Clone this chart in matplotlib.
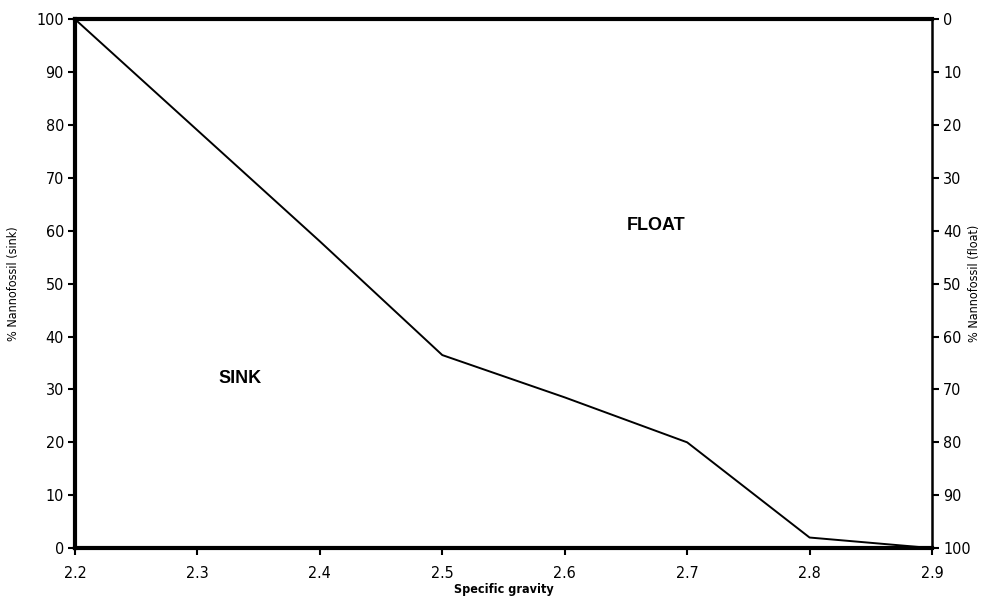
import matplotlib.pyplot as plt

gravity = [2.2, 2.3, 2.4, 2.5, 2.6, 2.7, 2.8, 2.9]
sink_pct = [100, 79, 58, 36.5, 28.5, 20, 2, 0]
x_ticks = [2.2, 2.3, 2.4, 2.5, 2.6, 2.7, 2.8, 2.9]
y_ticks = list(range(0, 101, 10))

plt.rcParams['font.family'] = ['DejaVu Sans']
plt.rcParams['font.stretch'] = 'condensed'


def main():
    fig = plt.figure(figsize=(10, 6.01), dpi=100)
    ax = fig.add_axes([0.075, 0.088, 0.857, 0.88])
    ax.plot(gravity, sink_pct, color='black', lw=1.4)

    ax.set_xlim(2.2, 2.9)
    ax.set_ylim(0, 100)
    ax.set_xticks(x_ticks)
    ax.set_xticklabels([f"{v:.1f}" for v in x_ticks], fontsize=11.5)
    ax.set_yticks(y_ticks)
    ax.set_yticklabels([str(v) for v in y_ticks], fontsize=11.5)
    ax.tick_params(direction='out', length=5, width=1.5, pad=3)
    ax.tick_params(axis='x', pad=8)

    ax.spines['left'].set_linewidth(3)
    ax.spines['bottom'].set_linewidth(3)
    ax.spines['top'].set_linewidth(3)
    ax.spines['right'].set_linewidth(1.8)

    ax.set_xlabel("Specific gravity", fontsize=9, fontweight='bold', labelpad=1)
    ax.set_ylabel("% Nannofossil (sink)", fontsize=9)
    ax.yaxis.set_label_coords(-0.064, 0.5)

    ax2 = ax.twinx()
    ax2.set_ylim(100, 0)
    ax2.set_yticks(y_ticks)
    ax2.set_yticklabels([str(v) for v in y_ticks], fontsize=11.5)
    ax2.tick_params(direction='out', length=5, width=1.5, pad=3)
    ax2.set_ylabel("% Nannofossil (float)", fontsize=9)
    ax2.yaxis.set_label_coords(1.042, 0.5)
    for s in ax2.spines.values():
        s.set_visible(False)

    ax.text(2.335, 32, "SINK", fontsize=13, fontweight='bold', ha='center', va='center',
            family=['Liberation Sans', 'DejaVu Sans'])
    ax.text(2.675, 61, "FLOAT", fontsize=13, fontweight='bold', ha='center', va='center',
            family=['Liberation Sans', 'DejaVu Sans'])

    fig.savefig("out.png", dpi=100)


if __name__ == "__main__":
    main()
